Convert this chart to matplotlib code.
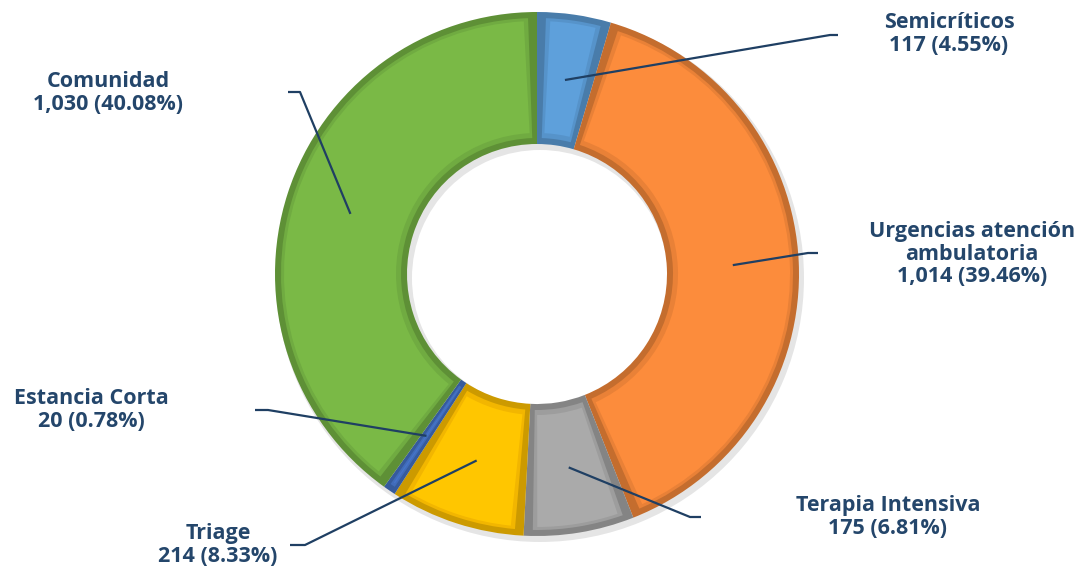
import numpy as np
import matplotlib
matplotlib.use('Agg')
from matplotlib import pyplot as plt
from matplotlib.patches import Wedge

# ==============================================================================
# Data
labels = ['Semicríticos', 'Urgencias atención\nambulatoria', 'Terapia Intensiva',
          'Triage', 'Estancia Corta', 'Comunidad']
values = [117, 1014, 175, 214, 20, 1030]
pct_text = ['4.55%', '39.46%', '6.81%', '8.33%', '0.78%', '40.08%']
colors = ['#5B9BD5', '#F5883A', '#A5A5A5', '#FFC000', '#4472C4', '#76B444']
# ==============================================================================

W, H = 1087, 570
fig = plt.figure(figsize=(W / 100, H / 100), dpi=100)
ax = fig.add_axes([0, 0, 1, 1])

cx, cy = 537, H - 274
R = 262
ring = 132
text_color = '#24466B'
line_color = '#1F3F63'


def shade(c, f):
    rgb = np.array(matplotlib.colors.to_rgb(c))
    return tuple(np.clip(rgb * f, 0, 1))


# faint drop shadow
ax.add_patch(Wedge((cx + 3, cy - 4), R + 2, 0, 360, width=ring + 4,
                   facecolor='#000000', alpha=0.10, linewidth=0))

wedges, _ = ax.pie(values, colors=colors, startangle=90, counterclock=False,
                   radius=R, center=(cx, cy),
                   wedgeprops=dict(width=ring, linewidth=0))

# bevel: darker rim with lighter inset
for w, c in zip(wedges, colors):
    w.set_facecolor(shade(c, 0.8))
    t1, t2 = w.theta1, w.theta2
    span = t2 - t1
    inset = min(2.0, span * 0.3)
    ax.add_patch(Wedge((cx, cy), R - 6, t1 + inset, t2 - inset, width=ring - 12,
                       facecolor=shade(c, 0.95), linewidth=0))
    ax.add_patch(Wedge((cx, cy), R - 9, t1 + inset * 1.5, t2 - inset * 1.5,
                       width=ring - 20, facecolor=shade(c, 1.03), linewidth=0))

# label anchors (elbow, end, text center) in pixel coords
elbows = [(830, 35), (808, 253), (690, 517), (305, 545), (268, 410), (300, 92)]
ends = [(838, 35), (818, 253), (701, 517), (290, 545), (255, 410), (288, 92)]
text_pos = [(949, 34), (972, 254), (888, 517), (218, 545), (91, 410), (108, 93)]

for w, lab, v, p, el, en, tp in zip(wedges, labels, values, pct_text, elbows, ends, text_pos):
    mid = np.radians((w.theta1 + w.theta2) / 2)
    rr = R - ring / 2
    sx, sy = cx + rr * np.cos(mid), cy + rr * np.sin(mid)
    ax.plot([sx, el[0], en[0]], [sy, H - el[1], H - en[1]], color=line_color, lw=1.6,
            solid_capstyle='butt', zorder=5)
    ax.text(tp[0], H - tp[1], f'{lab}\n{v:,} ({p})', ha='center', va='center',
            fontsize=15.5, fontweight='bold', family='Open Sans', color=text_color,
            linespacing=1.12, zorder=6)

ax.set_xlim(0, W)
ax.set_ylim(0, H)
ax.set_aspect('auto')
ax.axis('off')

fig.savefig('out.png', dpi=100)
